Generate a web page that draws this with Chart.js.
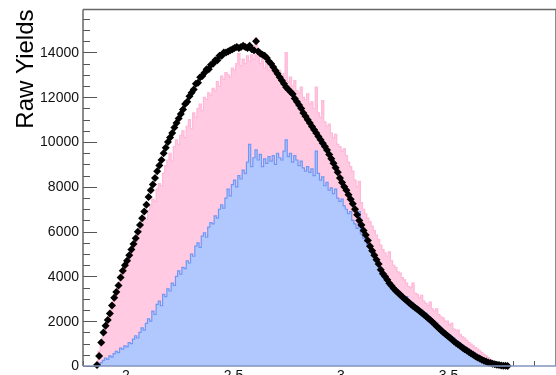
<!DOCTYPE html>
<html>
<head>
<meta charset="utf-8">
<script src="https://cdn.jsdelivr.net/npm/chart.js@4.4.1/dist/chart.umd.min.js"></script>
<style>
  body { margin: 0; overflow: hidden; background: #fff; }
  #yield-chart { display: block; }
</style>
</head>
<body>
<canvas id="yield-chart" width="560" height="400"></canvas>
<script>
// BINNING (all three series share the same 0.01 wide bins)
const binStart = 1.86;
const binWidth = 0.01;

// PINK HISTOGRAM - raw yields per bin
const pinkYields = [
  250, 650, 1100, 1500, 1850, 2150, 2350, 2800, 3000, 3250,
  3450, 3800, 4100, 4250, 4550, 4700, 5050, 5250, 5450, 5850,
  5950, 6250, 6650, 6550, 6950, 7150, 7450, 7350, 7900, 8150,
  8050, 8600, 8950, 9200, 9500, 9150, 9800, 10100, 9900, 10300,
  10500, 10200, 10700, 11000, 10600, 11300, 11100, 11500, 11700, 11400,
  12000, 11900, 12200, 12100, 12400, 12300, 12700, 12500, 12950, 12800,
  13100, 13000, 12900, 13300, 13200, 13500, 13950, 13400, 13700, 13500,
  13850, 13600, 13900, 13700, 14650, 13800, 13500, 13700, 13300, 13600,
  13200, 13400, 13100, 13300, 12900, 13200, 12800, 13050, 14000, 12700,
  12900, 12500, 12750, 12300, 12200, 12450, 12000, 11900, 12150, 11700,
  11800, 11500, 12450, 11300, 11100, 11850, 10900, 10700, 10800, 10400,
  10200, 10350, 9900, 9800, 9600, 9700, 9400, 9100, 8900, 8700,
  8300, 8000, 8250, 7300, 7000, 6800, 6600, 6450, 6250, 6050,
  5850, 5650, 5400, 5200, 5050, 4900, 5100, 4700, 4500, 4400,
  4200, 4150, 3950, 3850, 3700, 3550, 3500, 3700, 3250, 3200,
  3050, 3150, 2900, 2800, 2700, 2850, 2550, 2450, 2550, 2300,
  2200, 2150, 2000, 2000, 1850, 1900, 1650, 1600, 1600, 1400,
  1300, 1250, 1150, 1050, 980, 900, 820, 750, 680, 600,
  520, 450, 370, 300, 240, 170, 110, 60, 20, 0,
  0, 0,
];

// BLUE HISTOGRAM - raw yields per bin
const blueYields = [
  0, 50, 150, 250, 350, 300, 450, 400, 550, 650,
  600, 800, 750, 900, 850, 1050, 1000, 1200, 1350, 1250,
  1500, 1700, 1600, 1900, 2100, 2000, 2450, 2300, 2750, 2900,
  2700, 3200, 3100, 3450, 3350, 3700, 3600, 4000, 4250, 4100,
  4400, 4350, 4700, 4600, 5000, 4900, 5350, 5500, 5300, 5800,
  5950, 5750, 6200, 6400, 6350, 6700, 6600, 7000, 7200, 7050,
  7500, 7900, 7600, 8100, 8300, 8000, 8500, 8350, 8750, 8600,
  9100, 9900, 8900, 9300, 9650, 9200, 9450, 8900, 9250, 9050,
  9350, 9150, 9400, 9000, 9500, 9300, 9200, 9600, 10100, 9350,
  9500, 9100, 9400, 9200, 8950, 9150, 8850, 8700, 8900, 8650,
  8800, 8500, 9600, 8600, 8300, 8450, 8050, 8200, 7850, 7950,
  7700, 7900, 7500, 7350, 7450, 7150, 7000, 6800, 6900, 6500,
  6350, 6150, 6900, 5900, 5700, 5550, 5400, 5250, 5100, 4900,
  4750, 4650, 4400, 4200, 3950, 3800, 3600, 3450, 3500, 3300,
  3350, 3150, 3200, 3050, 3100, 2950, 2850, 2800, 2700, 2650,
  2550, 2500, 2400, 2350, 2250, 2150, 2050, 1950, 1900, 1800,
  1700, 1600, 1550, 1450, 1400, 1300, 1250, 1150, 1080, 1000,
  930, 860, 790, 720, 660, 600, 530, 470, 410, 350,
  300, 250, 200, 160, 120, 90, 60, 35, 15, 5,
  0, 0,
];

// BLACK MARKERS - raw yields per bin
const markerYields = [
  50, 450, 1050, 1500, 1800, 2050, 2350, 2700, 3050, 3300,
  3600, 3950, 4250, 4500, 4700, 4950, 5200, 5450, 5700, 6000,
  6300, 6600, 6900, 7200, 7550, 7850, 8100, 8400, 8700, 8950,
  9200, 9500, 9750, 10000, 10200, 10400, 10650, 10850, 11050, 11250,
  11450, 11700, 11800, 12050, 12200, 12350, 12600, 12650, 12900, 12950,
  13100, 13250, 13250, 13450, 13500, 13650, 13650, 13850, 13850, 14000,
  14000, 14050, 14100, 14150, 14200, 14250, 14200, 14250, 14300, 14250,
  14200, 14300, 14150, 14100, 14500, 14050, 13950, 13900, 13850, 13750,
  13600, 13500, 13350, 13200, 13050, 12900, 12750, 12600, 12450, 12350,
  12250, 12150, 11950, 11800, 11650, 11500, 11300, 11150, 11000, 10850,
  10700, 10550, 10400, 10250, 10100, 9950, 9800, 9650, 9450, 9250,
  9050, 8850, 8650, 8400, 8200, 8000, 7850, 7650, 7450, 7250,
  7000, 6750, 6500, 6300, 6050, 5850, 5600, 5350, 5150, 4950,
  4750, 4550, 4300, 4120, 4000, 3850, 3700, 3580, 3460, 3360,
  3270, 3180, 3090, 3000, 2920, 2840, 2760, 2680, 2600, 2530,
  2460, 2380, 2300, 2220, 2130, 2050, 1960, 1870, 1780, 1690,
  1600, 1510, 1430, 1350, 1270, 1190, 1110, 1030, 960, 890,
  820, 750, 690, 620, 560, 500, 440, 380, 330, 280,
  240, 200, 160, 130, 100, 75, 55, 40, 25, 15,
  8, 3,
];

// AXES
const xMin = 1.8;
const xMax = 4.0;
const yMax = 15920;
const yTickValues = [0, 2000, 4000, 6000, 8000, 10000, 12000, 14000];
const xTickValues = [2, 2.5, 3, 3.5];
const xTickLabels = ["2", "2.5", "3", "3.5"];
const yTitle = "Raw Yields";

const FONT = '"Liberation Sans", Arial, Helvetica, sans-serif';

// turn a per-bin array into {x, y} at the bin centres
function toPoints(arr) {
  return arr.map((v, i) => ({ x: binStart + binWidth * (i + 0.5), y: v }));
}

//* frame, ticks and labels drawn the ROOT way (ticks inside the frame)
const rootFrame = {
  id: "rootFrame",
  beforeDatasetsDraw(chart) {
    const { ctx, chartArea: a, scales } = chart;
    const x = scales.x;
    const y = scales.y;
    ctx.save();
    ctx.strokeStyle = "#555";
    ctx.lineWidth = 1;

    // y ticks: major every 2000, minor every 500
    for (let v = 0; v <= yMax; v += 500) {
      const py = Math.round(y.getPixelForValue(v)) + 0.5;
      const len = v % 2000 === 0 ? 14 : 7;
      ctx.beginPath();
      ctx.moveTo(a.left, py);
      ctx.lineTo(a.left + len, py);
      ctx.stroke();
    }
    // x ticks: major every 0.5, minor every 0.1
    for (let k = 18; k <= 40; k++) {
      const px = Math.round(x.getPixelForValue(k / 10)) + 0.5;
      const len = k % 5 === 0 ? 9 : 5;
      ctx.beginPath();
      ctx.moveTo(px, a.bottom);
      ctx.lineTo(px, a.bottom - len);
      ctx.stroke();
    }

    // top and left frame lines
    ctx.strokeStyle = "#666";
    ctx.lineWidth = 1.5;
    ctx.beginPath();
    ctx.moveTo(a.left, a.top);
    ctx.lineTo(a.right, a.top);
    ctx.lineTo(a.right, a.bottom);
    ctx.stroke();
    ctx.beginPath();
    ctx.moveTo(a.left, a.top);
    ctx.lineTo(a.left, a.bottom);
    ctx.stroke();
    ctx.restore();
  },
  afterDraw(chart) {
    const { ctx, chartArea: a, scales } = chart;
    ctx.save();

    // bottom axis line (blue histogram outline sits on it)
    ctx.strokeStyle = "#8393bd";
    ctx.lineWidth = 1.5;
    ctx.beginPath();
    ctx.moveTo(a.left, a.bottom);
    ctx.lineTo(a.right, a.bottom);
    ctx.stroke();

    ctx.fillStyle = "#111";
    ctx.font = "14px " + FONT;

    // y labels
    ctx.textAlign = "right";
    ctx.textBaseline = "middle";
    yTickValues.forEach((v) => {
      ctx.fillText(String(v), a.left - 4, scales.y.getPixelForValue(v) + 0.5);
    });

    // x labels
    ctx.textAlign = "center";
    ctx.textBaseline = "top";
    xTickValues.forEach((v, i) => {
      ctx.fillText(xTickLabels[i], scales.x.getPixelForValue(v), a.bottom + 3);
    });

    // y title, rotated, right-aligned to the top of the axis
    ctx.font = "24px " + FONT;
    ctx.translate(33, a.top);
    ctx.rotate(-Math.PI / 2);
    ctx.textAlign = "right";
    ctx.textBaseline = "alphabetic";
    ctx.fillStyle = "#000";
    ctx.fillText(yTitle, 0, 0);
    ctx.restore();
  },
};

const ctx = document.getElementById("yield-chart");

new Chart(ctx, {
  type: "line",
  data: {
    datasets: [
      {
        label: "markers",
        data: toPoints(markerYields),
        showLine: false,
        pointStyle: "rectRot",
        pointRadius: 4,
        pointBackgroundColor: "#000",
        pointBorderColor: "#000",
        pointBorderWidth: 0,
        clip: false,
        order: 1,
      },
      {
        label: "blue",
        data: toPoints(blueYields),
        stepped: "middle",
        borderColor: "#6f98f4",
        borderWidth: 1.2,
        backgroundColor: "#b0c8fe",
        fill: "origin",
        pointRadius: 0,
        order: 2,
      },
      {
        label: "pink",
        data: toPoints(pinkYields),
        stepped: "middle",
        borderColor: "#ffb8d8",
        borderWidth: 1.2,
        backgroundColor: "#ffcae2",
        fill: "origin",
        pointRadius: 0,
        order: 3,
      },
    ],
  },
  options: {
    responsive: false,
    animation: false,
    events: [],
    layout: { padding: { left: 83, top: 9.5, right: 4, bottom: 34 } },
    plugins: {
      legend: { display: false },
      tooltip: { enabled: false },
    },
    scales: {
      x: { type: "linear", min: xMin, max: xMax, display: false },
      y: { min: 0, max: yMax, display: false },
    },
  },
  plugins: [rootFrame],
});
</script>
</body>
</html>
